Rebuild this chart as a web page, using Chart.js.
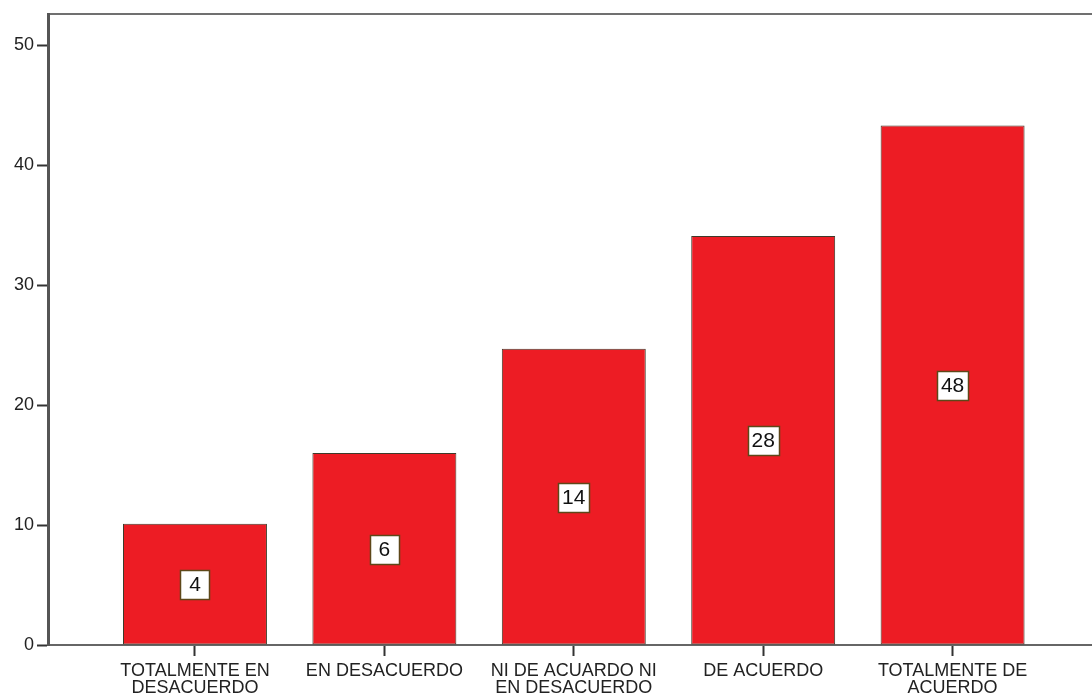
<!DOCTYPE html>
<html>
<head>
<meta charset="utf-8">
<script src="https://cdn.jsdelivr.net/npm/chart.js@4"></script>
<style>
  html, body { margin: 0; padding: 0; background: #fff; }
  #chart-wrap { width: 1092px; height: 698px; }
</style>
</head>
<body>
<div id="chart-wrap"><canvas id="chart" width="1092" height="698"></canvas></div>
<script>
const categories = [
  [`TOTALMENTE EN`, `DESACUERDO`],
  [`EN DESACUERDO`],
  [`NI DE ACUARDO NI`, `EN DESACUERDO`],
  [`DE ACUERDO`],
  [`TOTALMENTE DE`, `ACUERDO`],
];
const barValues = [10.1, 16.0, 24.7, 34.1, 43.3];
const counts = [4, 6, 14, 28, 48];
const yTicks = [0, 10, 20, 30, 40, 50];

const FONT = `"Liberation Sans", Arial, sans-serif`;

// white boxes with the count inside each bar
const countLabels = {
  id: `countLabels`,
  afterDatasetsDraw(chart) {
    const {ctx} = chart;
    const meta = chart.getDatasetMeta(0);
    ctx.save();
    ctx.font = `21px ${FONT}`;
    ctx.textAlign = `center`;
    ctx.textBaseline = `middle`;
    meta.data.forEach((bar, i) => {
      const text = String(counts[i]);
      const cy = Math.round((bar.y + bar.base) / 2);
      const w = Math.round(Math.max(ctx.measureText(text).width + 8, 29));
      const h = 29;
      const x0 = Math.round(bar.x - w / 2) + 0.5;
      const y0 = Math.round(cy - h / 2) + 0.5;
      ctx.fillStyle = `#fff`;
      ctx.fillRect(x0, y0, w, h);
      ctx.strokeStyle = `#5e4719`;
      ctx.lineWidth = 1.5;
      ctx.strokeRect(x0, y0, w, h);
      ctx.fillStyle = `#111`;
      ctx.fillText(text, bar.x, cy + 1);
    });
    ctx.restore();
  }
};

new Chart(document.getElementById(`chart`).getContext(`2d`), {
  type: `bar`,
  data: {
    datasets: [{
      data: barValues.map((v, i) => ({x: i, y: v})),
      backgroundColor: `#ed1c24`,
      borderColor: `#3f3a2a`,
      borderWidth: 1,
      borderSkipped: false,
      categoryPercentage: 1,
      barPercentage: 0.76,
    }],
  },
  options: {
    responsive: false,
    animation: false,
    devicePixelRatio: 1,
    layout: {padding: {top: 0, right: 0, left: 0, bottom: 0}},
    plugins: {
      legend: {display: false},
      tooltip: {enabled: false},
    },
    scales: {
      x: {
        type: `linear`,
        position: `bottom`,
        min: -0.776,
        max: 4.736,
        offset: false,
        afterBuildTicks: (scale) => {
          scale.ticks = categories.map((_, i) => ({value: i}));
        },
        afterFit: (scale) => {
          scale.height = 53;
        },
        ticks: {
          autoSkip: false,
          maxRotation: 0,
          minRotation: 0,
          padding: 7,
          color: `#222`,
          font: {family: FONT, size: 18, lineHeight: `17px`},
          callback: (value) => categories[value],
        },
        grid: {
          display: true,
          offset: false,
          drawOnChartArea: false,
          drawTicks: true,
          tickLength: 11,
          tickColor: `#333`,
          tickWidth: 2,
        },
        border: {display: true, color: `#666`, width: 2},
      },
      top: {
        type: `linear`,
        axis: `x`,
        position: `top`,
        min: 0,
        max: 1,
        afterFit: (scale) => {
          scale.height = 14;
        },
        ticks: {display: false},
        grid: {display: false, drawTicks: false},
        border: {display: true, color: `#707070`, width: 2},
      },
      y: {
        type: `linear`,
        min: 0,
        max: 52.6,
        afterBuildTicks: (scale) => {
          scale.ticks = yTicks.map((v) => ({value: v}));
        },
        afterFit: (scale) => {
          scale.width = 48;
        },
        ticks: {
          padding: 3,
          color: `#222`,
          font: {family: FONT, size: 18},
        },
        grid: {
          display: true,
          drawOnChartArea: false,
          drawTicks: true,
          tickLength: 11,
          tickColor: `#333`,
          tickWidth: 2,
        },
        border: {display: true, color: `#555`, width: 3},
      },
    },
  },
  plugins: [countLabels],
});
</script>
</body>
</html>
